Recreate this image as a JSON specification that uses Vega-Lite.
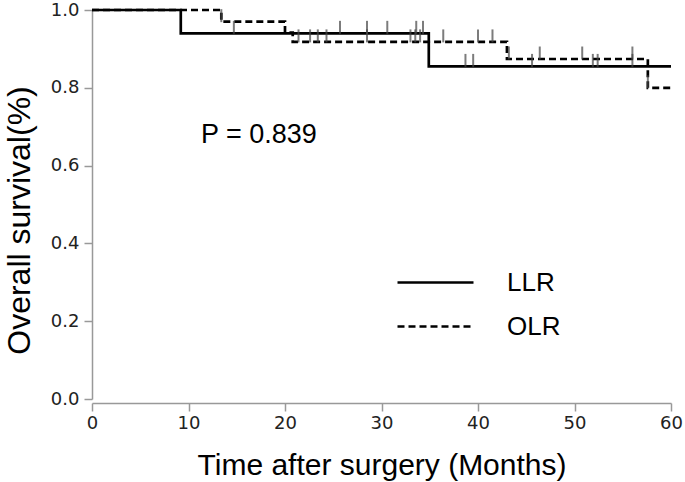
{
  "$schema": "https://vega.github.io/schema/vega-lite/v6.json",
  "width": 579,
  "height": 389,
  "autosize": "none",
  "padding": {"left": 92, "top": 10, "right": 14, "bottom": 83},
  "background": "white",
  "config": {"view": {"stroke": null}},
  "datasets": {
    "curves": [
      {"group": "LLR", "time": 0, "surv": 1.0},
      {"group": "LLR", "time": 9.2, "surv": 0.94},
      {"group": "LLR", "time": 34.9, "surv": 0.855},
      {"group": "LLR", "time": 60, "surv": 0.855},
      {"group": "OLR", "time": 0, "surv": 1.0},
      {"group": "OLR", "time": 13.4, "surv": 0.97},
      {"group": "OLR", "time": 20.0, "surv": 0.942},
      {"group": "OLR", "time": 20.8, "surv": 0.918},
      {"group": "OLR", "time": 43.0, "surv": 0.874},
      {"group": "OLR", "time": 57.6, "surv": 0.8},
      {"group": "OLR", "time": 60, "surv": 0.8}
    ],
    "censor": [
      {"group": "LLR", "time": 14.7, "surv": 0.94},
      {"group": "LLR", "time": 25.7, "surv": 0.94},
      {"group": "LLR", "time": 28.5, "surv": 0.94},
      {"group": "LLR", "time": 30.6, "surv": 0.94},
      {"group": "LLR", "time": 33.6, "surv": 0.94},
      {"group": "LLR", "time": 34.3, "surv": 0.94},
      {"group": "LLR", "time": 38.7, "surv": 0.855},
      {"group": "LLR", "time": 39.5, "surv": 0.855},
      {"group": "LLR", "time": 45.6, "surv": 0.855},
      {"group": "LLR", "time": 51.9, "surv": 0.855},
      {"group": "LLR", "time": 52.4, "surv": 0.855},
      {"group": "LLR", "time": 56.0, "surv": 0.855},
      {"group": "OLR", "time": 13.4, "surv": 0.97},
      {"group": "OLR", "time": 21.4, "surv": 0.918},
      {"group": "OLR", "time": 22.6, "surv": 0.918},
      {"group": "OLR", "time": 23.4, "surv": 0.918},
      {"group": "OLR", "time": 24.3, "surv": 0.918},
      {"group": "OLR", "time": 28.5, "surv": 0.918},
      {"group": "OLR", "time": 33.0, "surv": 0.918},
      {"group": "OLR", "time": 33.5, "surv": 0.918},
      {"group": "OLR", "time": 34.0, "surv": 0.918},
      {"group": "OLR", "time": 36.4, "surv": 0.918},
      {"group": "OLR", "time": 40.0, "surv": 0.918},
      {"group": "OLR", "time": 41.5, "surv": 0.918},
      {"group": "OLR", "time": 43.2, "surv": 0.874},
      {"group": "OLR", "time": 46.4, "surv": 0.874},
      {"group": "OLR", "time": 50.8, "surv": 0.874},
      {"group": "OLR", "time": 56.0, "surv": 0.874},
      {"group": "OLR", "time": 57.6, "surv": 0.8}
    ],
    "note": [{"label": "P = 0.839", "time": 17.3, "surv": 0.679}]
  },
  "layer": [
    {
      "data": {"name": "curves"},
      "mark": {"type": "line", "interpolate": "step-after", "color": "black", "strokeWidth": 2.7},
      "encoding": {
        "x": {
          "field": "time", "type": "quantitative",
          "scale": {"domain": [0, 60], "nice": false},
          "axis": {
            "values": [0, 10, 20, 30, 40, 50, 60],
            "title": "Time after surgery (Months)",
            "grid": false, "offset": 4, "tickSize": 8, "domainColor": "#999999", "tickColor": "#999999",
            "domainWidth": 1.5, "tickWidth": 1.5,
            "labelFont": "DejaVu Sans", "labelFontSize": 18, "labelColor": "#222222", "labelPadding": 3,
            "labelFlush": false,
            "titleFont": "Liberation Sans", "titleFontSize": 30, "titleFontWeight": "normal", "titleColor": "black", "titlePadding": 18
          }
        },
        "y": {
          "field": "surv", "type": "quantitative",
          "scale": {"domain": [0, 1], "nice": false},
          "axis": {
            "values": [0, 0.1, 0.2, 0.3, 0.4, 0.5, 0.6, 0.7, 0.8, 0.9, 1.0],
            "labelExpr": "round(datum.value*10) % 2 == 0 ? format(datum.value, '.1f') : ''",
            "tickSize": {"condition": {"test": "round(datum.value*10) % 2 == 0", "value": 8}, "value": 5},
            "title": "Overall survival(%)",
            "titleY": 210,
            "grid": false, "domainColor": "#999999", "tickColor": "#999999",
            "domainWidth": 1.5, "tickWidth": 1.5,
            "labelFont": "DejaVu Sans", "labelFontSize": 18, "labelColor": "#222222", "labelPadding": 5,
            "labelFlush": false,
            "titleFont": "Liberation Sans", "titleFontSize": 32, "titleFontWeight": "normal", "titleColor": "black", "titlePadding": 14
          }
        },
        "strokeDash": {
          "field": "group", "type": "nominal",
          "scale": {"domain": ["LLR", "OLR"], "range": [[1, 0], [7, 4]]},
          "legend": {
            "title": null, "orient": "none", "legendX": 323, "legendY": 252,
            "symbolType": "M-2,0H2", "symbolSize": 1444, "symbolStrokeWidth": 2.7, "symbolStrokeColor": "black",
            "labelFont": "Liberation Sans", "labelFontSize": 26, "labelColor": "black", "labelOffset": 51,
            "rowPadding": 10
          }
        }
      }
    },
    {
      "data": {"name": "censor"},
      "mark": {"type": "tick", "orient": "vertical", "color": "#444444", "thickness": 2, "size": 13, "yOffset": -6},
      "encoding": {
        "x": {"field": "time", "type": "quantitative"},
        "y": {"field": "surv", "type": "quantitative"}
      }
    },
    {
      "data": {"name": "note"},
      "mark": {"type": "text", "font": "Liberation Sans", "fontSize": 27, "color": "black", "align": "center", "baseline": "middle"},
      "encoding": {
        "x": {"field": "time", "type": "quantitative"},
        "y": {"field": "surv", "type": "quantitative"},
        "text": {"field": "label"}
      }
    }
  ]
}
